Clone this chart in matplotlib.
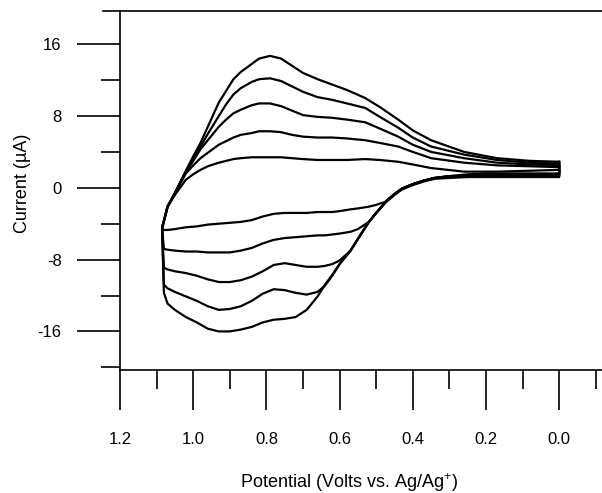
import numpy as np
import matplotlib
matplotlib.use("Agg")
import matplotlib.pyplot as plt

# Potentials (V vs. Ag/Ag+) for the forward and reverse sweeps
v_anodic = [0.0, 0.08, 0.17, 0.26, 0.35, 0.40, 0.44, 0.49, 0.53, 0.58,
            0.62, 0.66, 0.70, 0.73, 0.76, 0.79, 0.82, 0.84, 0.87, 0.89,
            0.91, 0.93, 0.96, 0.98, 1.0, 1.02, 1.05, 1.07, 1.085]
v_cathodic = [1.085, 1.08, 1.07, 1.05, 1.02, 0.99, 0.96, 0.93, 0.9, 0.87,
              0.84, 0.81, 0.78, 0.75, 0.72, 0.69, 0.66, 0.64, 0.62, 0.6,
              0.57, 0.55, 0.52, 0.5, 0.47, 0.45, 0.43, 0.4, 0.37, 0.34,
              0.3, 0.25, 0.2, 0.1, 0.0]

# Currents (uA), one list per scan rate, slowest first
anodic_1 = [2.0, 1.9, 1.8, 1.8, 2.2, 2.6, 2.9, 3.1, 3.2, 3.1,
            3.1, 3.1, 3.2, 3.3, 3.4, 3.4, 3.4, 3.4, 3.3, 3.2,
            3.0, 2.8, 2.4, 2.0, 1.5, 0.9, -0.8, -2.1, -4.5]
anodic_2 = [2.3, 2.4, 2.5, 2.8, 3.3, 4.0, 4.6, 5.0, 5.3, 5.5,
            5.6, 5.6, 5.7, 5.9, 6.2, 6.3, 6.3, 6.1, 5.9, 5.6,
            5.2, 4.8, 3.9, 3.3, 2.5, 1.6, -0.6, -2.1, -4.5]
anodic_3 = [2.5, 2.6, 2.8, 3.3, 4.0, 4.8, 5.7, 6.6, 7.3, 7.6,
            7.8, 7.9, 8.1, 8.6, 9.1, 9.4, 9.4, 9.2, 8.7, 8.3,
            7.6, 6.8, 5.3, 4.3, 3.0, 1.8, -0.6, -2.1, -4.5]
anodic_4 = [2.7, 2.8, 3.1, 3.7, 4.6, 5.6, 6.7, 7.9, 8.9, 9.4,
            9.8, 10.1, 10.7, 11.3, 11.9, 12.2, 12.1, 11.8, 11.1, 10.4,
            9.3, 8.0, 6.0, 4.6, 3.2, 1.8, -0.6, -2.1, -4.5]
anodic_5 = [2.9, 3.0, 3.3, 4.0, 5.3, 6.4, 7.6, 9.0, 10.0, 10.9,
            11.5, 12.1, 12.8, 13.6, 14.4, 14.7, 14.4, 13.8, 12.9, 12.1,
            10.8, 9.5, 6.8, 5.0, 3.5, 1.9, -0.6, -2.1, -4.5]

cathodic_1 = [-4.5, -4.7, -4.7, -4.6, -4.4, -4.3, -4.1, -4.0, -3.9, -3.8,
              -3.6, -3.2, -2.9, -2.8, -2.8, -2.8, -2.7, -2.7, -2.7, -2.6,
              -2.4, -2.3, -2.1, -1.9, -1.5, -0.8, -0.2, 0.3, 0.7, 1.0,
              1.1, 1.2, 1.2, 1.2, 1.2]
cathodic_2 = [-4.5, -6.8, -6.9, -7.0, -7.1, -7.1, -7.2, -7.2, -7.2, -7.0,
              -6.7, -6.2, -5.8, -5.6, -5.5, -5.4, -5.3, -5.3, -5.2, -5.1,
              -4.9, -4.6, -3.8, -2.8, -1.4, -0.7, -0.1, 0.4, 0.8, 1.1,
              1.2, 1.3, 1.3, 1.3, 1.3]
cathodic_3 = [-4.5, -8.9, -9.1, -9.3, -9.5, -9.8, -10.2, -10.5, -10.5, -10.3,
              -9.9, -9.3, -8.6, -8.4, -8.6, -8.8, -8.8, -8.7, -8.5, -8.1,
              -7.0, -5.7, -3.8, -2.8, -1.4, -0.7, -0.1, 0.4, 0.8, 1.1,
              1.3, 1.3, 1.4, 1.4, 1.4]
cathodic_4 = [-4.5, -10.8, -11.2, -11.6, -12.1, -12.6, -13.2, -13.6, -13.5, -13.2,
              -12.6, -11.8, -11.3, -11.4, -11.7, -11.9, -11.6, -10.9, -9.8, -8.5,
              -7.0, -5.7, -3.8, -2.8, -1.4, -0.7, -0.1, 0.4, 0.8, 1.1,
              1.3, 1.4, 1.5, 1.5, 1.5]
cathodic_5 = [-4.5, -11.7, -12.9, -13.6, -14.4, -15.0, -15.7, -16.0, -16.0, -15.8,
              -15.5, -15.0, -14.7, -14.6, -14.4, -13.6, -12.1, -10.8, -9.7, -8.5,
              -7.0, -5.7, -3.8, -2.8, -1.4, -0.7, -0.1, 0.4, 0.8, 1.1,
              1.3, 1.5, 1.6, 1.6, 1.6]

scans = [(anodic_1, cathodic_1), (anodic_2, cathodic_2), (anodic_3, cathodic_3),
         (anodic_4, cathodic_4), (anodic_5, cathodic_5)]

x_major = [1.2, 1.0, 0.8, 0.6, 0.4, 0.2, 0.0]
x_minor = [1.1, 0.9, 0.7, 0.5, 0.3, 0.1, -0.1]
y_major = [16, 8, 0, -8, -16]
y_minor = [12, 4, -4, -12, -20]

plt.rcParams["font.family"] = ["Liberation Sans", "DejaVu Sans"]
plt.rcParams["mathtext.default"] = "regular"

fig = plt.figure(figsize=(6.02, 4.93), dpi=100)
ax = fig.add_axes([0.1993, 0.2495, 0.8007, 0.7282])

# each scan is a closed loop: forward sweep, reverse sweep, back to start
for anodic, cathodic in scans:
    v = np.concatenate([v_anodic, v_cathodic, v_anodic[:1]])
    i = np.concatenate([anodic, cathodic, anodic[:1]])
    ax.plot(v, i, color="black", linewidth=1.6, solid_joinstyle="round")

ax.set_xlim(1.2, -0.117)
ax.set_ylim(-20.3, 19.7)

ax.set_xticks(x_major)
ax.set_xticks(x_minor, minor=True)
ax.set_xticklabels(["%.1f" % t for t in x_major])
ax.set_yticks(y_major)
ax.set_yticks(y_minor, minor=True)
ax.set_yticklabels(["%d" % t for t in y_major])

ax.tick_params(axis="both", which="both", direction="out", width=1.2,
               labelsize=12, color="black")
ax.tick_params(axis="x", which="major", length=29, pad=16)
ax.tick_params(axis="x", which="minor", length=14)
ax.tick_params(axis="y", which="major", length=31, pad=11)
ax.tick_params(axis="y", which="minor", length=13.5)

for side in ["top", "right"]:
    ax.spines[side].set_visible(False)
for side in ["left", "bottom"]:
    ax.spines[side].set_linewidth(1.2)

# frame line along the top, running a little past the left axis
ax.plot([-0.035, 1.0], [1.0, 1.0], transform=ax.transAxes, color="black",
        linewidth=1.2, clip_on=False)

fig.text(0.037, 0.629, "Current (\u00b5A)", rotation=90, ha="center",
         va="center", fontsize=13)
fig.text(0.579, 0.022, "Potential (Volts vs. Ag/Ag$^{+}$)", ha="center",
         va="center", fontsize=13)

plt.savefig("out.png", dpi=100)
plt.close()
